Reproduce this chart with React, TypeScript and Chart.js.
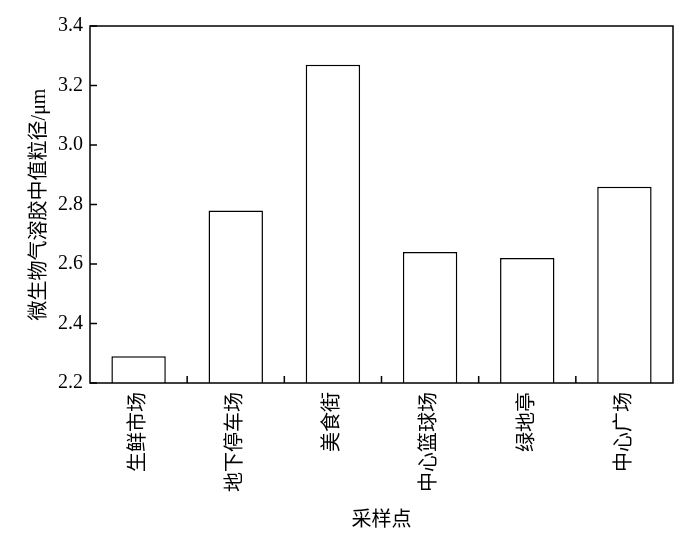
import React, { useEffect, useRef } from "react";
import { Chart, registerables } from "chart.js";

Chart.register(...registerables);

const categories = ["生鲜市场", "地下停车场", "美食街", "中心篮球场", "绿地亭", "中心广场"];
const values = [2.29, 2.78, 3.27, 2.64, 2.62, 2.86];
const yTitle = "微生物气溶胶中值粒径/μm";
const xTitle = "采样点";

const FONT = "'Liberation Serif', 'Noto Sans CJK SC', serif";

const framePlugin = {
  id: "frame",
  afterDraw(chart: any) {
    const { ctx, chartArea } = chart;
    const { left, right, top, bottom } = chartArea;
    const y = chart.scales.y;
    const x = chart.scales.x;
    ctx.save();
    ctx.strokeStyle = "#000";
    ctx.lineWidth = 1.5;
    ctx.strokeRect(left, top, right - left, bottom - top);
    ctx.beginPath();
    y.ticks.forEach((t: any) => {
      const py = y.getPixelForValue(t.value);
      ctx.moveTo(left, py);
      ctx.lineTo(left + 7, py);
    });
    for (let i = 0; i < categories.length - 1; i++) {
      const px = (x.getPixelForValue(i) + x.getPixelForValue(i + 1)) / 2;
      ctx.moveTo(px, bottom);
      ctx.lineTo(px, bottom - 7);
    }
    ctx.stroke();
    ctx.restore();
  },
};

export default function App() {
  const ref = useRef<HTMLCanvasElement>(null);
  useEffect(() => {
    if (!ref.current) return;
    const chart = new Chart(ref.current, {
      type: "bar",
      data: {
        labels: categories,
        datasets: [
          {
            data: values,
            backgroundColor: "#ffffff",
            borderColor: "#000000",
            borderWidth: 1.5,
            categoryPercentage: 1,
            barPercentage: 0.56,
          },
        ],
      },
      options: {
        responsive: false,
        animation: false,
        layout: { padding: { left: 0, right: 27, top: 26, bottom: 0 } },
        plugins: { legend: { display: false }, tooltip: { enabled: false } },
        scales: {
          x: {
            grid: { display: false, drawTicks: false },
            border: { display: false },
            ticks: {
              minRotation: 90,
              maxRotation: 90,
              padding: 9,
              color: "#000",
              font: { family: FONT, size: 20 },
            },
            title: {
              display: true,
              text: xTitle,
              color: "#000",
              font: { family: FONT, size: 20 },
              padding: { top: 0, bottom: 1 },
            },
            afterFit(scale: any) {
              scale.height = 151;
            },
          },
          y: {
            min: 2.2,
            max: 3.4,
            grid: { display: false, drawTicks: false },
            border: { display: false },
            ticks: {
              stepSize: 0.2,
              padding: 7,
              color: "#000",
              font: { family: FONT, size: 20 },
              callback: (v: any) => Number(v).toFixed(1),
            },
            title: {
              display: true,
              text: yTitle,
              color: "#000",
              font: { family: FONT, size: 20 },
              padding: { top: 28, bottom: 0 },
            },
            afterFit(scale: any) {
              scale.width = 90;
            },
          },
        },
      },
      plugins: [framePlugin],
    });
    return () => chart.destroy();
  }, []);
  return (
    <div style={{ position: "absolute", left: 0, top: 0, width: 700, height: 534, background: "#fff" }}>
      <canvas ref={ref} width={700} height={534} style={{ display: "block" }} />
    </div>
  );
}
